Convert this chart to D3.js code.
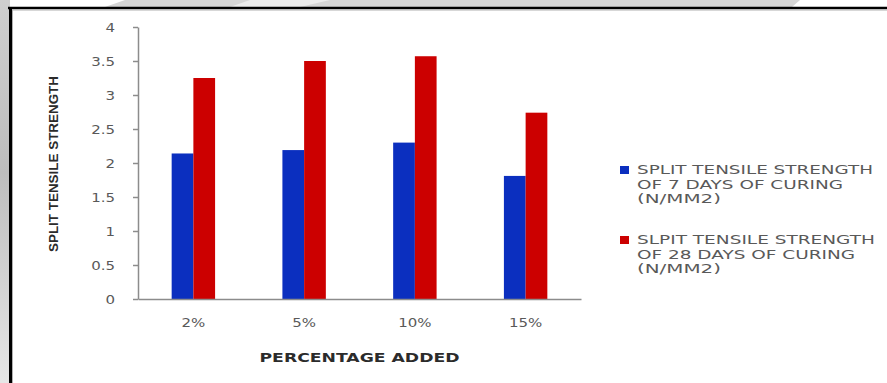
<!DOCTYPE html>
<html>
<head>
<meta charset="utf-8">
<script src="https://cdn.jsdelivr.net/npm/d3@7"></script>
<style>
  html, body { margin: 0; padding: 0; background: #fff; }
  svg { display: block; }
</style>
</head>
<body>
<svg id="chart" width="887" height="383"></svg>
<script>
// Split tensile strength by percentage added
const categories = ["2%", "5%", "10%", "15%"];
const seriesNames = [
  ["SPLIT TENSILE STRENGTH", "OF 7 DAYS OF CURING", "(N/MM2)"],
  ["SLPIT TENSILE STRENGTH", "OF 28 DAYS OF CURING", "(N/MM2)"]
];
const days7 = [2.14, 2.19, 2.30, 1.81];
const days28 = [3.25, 3.50, 3.57, 2.74];
const yTicks = [0, 0.5, 1, 1.5, 2, 2.5, 3, 3.5, 4];
const yTickLabels = ["0", "0.5", "1", "1.5", "2", "2.5", "3", "3.5", "4"];
const yTitle = "SPLIT TENSILE STRENGTH";
const xTitle = "PERCENTAGE ADDED";

const colors = ["#0b2fbf", "#cc0000"];
const seriesValues = [days7, days28];

const svg = d3.select("#chart");
const W = 887, H = 383;
const plot = { left: 138, right: 581, top: 27, bottom: 299 };
const STRETCH = 1.25;

// --- page frame and background band ---
const defs = svg.append("defs");
const lg = defs.append("linearGradient").attr("id", "sideFade").attr("x1", 0).attr("y1", 0).attr("x2", 0).attr("y2", 1);
lg.append("stop").attr("offset", "0%").attr("stop-color", "#cfcfcf");
lg.append("stop").attr("offset", "45%").attr("stop-color", "#bdbdbd");
lg.append("stop").attr("offset", "100%").attr("stop-color", "#e6e6e6");

svg.append("rect").attr("x", 0).attr("y", 0).attr("width", W).attr("height", H).attr("fill", "#fff");
svg.append("rect").attr("x", 0).attr("y", 0).attr("width", 10).attr("height", H).attr("fill", "url(#sideFade)");
svg.append("path")
  .attr("d", "M105,7 L125,0 L800,0 L792,7 Z")
  .attr("fill", "#d6d6d6");
svg.append("path")
  .attr("d", "M230,7 L250,0 L330,0 L300,7 Z")
  .attr("fill", "#ececec");
svg.append("line").attr("x1", 8).attr("x2", W).attr("y1", 8).attr("y2", 8)
  .attr("stroke", "#000").attr("stroke-width", 2.5);
svg.append("line").attr("x1", 10.5).attr("x2", 10.5).attr("y1", 7).attr("y2", H)
  .attr("stroke", "#000").attr("stroke-width", 3);
svg.append("line").attr("x1", 12).attr("x2", W).attr("y1", 10).attr("y2", 10)
  .attr("stroke", "#b0b0b0").attr("stroke-width", 1);
svg.append("line").attr("x1", 12.5).attr("x2", 12.5).attr("y1", 10).attr("y2", H)
  .attr("stroke", "#b0b0b0").attr("stroke-width", 1);

// --- scales ---
const x0 = d3.scaleBand().domain(categories).range([plot.left, plot.right]).padding(0);
const x1 = d3.scaleBand().domain([0, 1]).range([0, x0.bandwidth()]).paddingInner(0).paddingOuter(1.55);
const y = d3.scaleLinear().domain([0, 4]).range([plot.bottom, plot.top]);

// --- bars ---
const groups = svg.append("g").selectAll("g")
  .data(categories)
  .join("g")
  .attr("transform", d => `translate(${x0(d)},0)`);

groups.selectAll("rect")
  .data((d, i) => seriesValues.map((vals, s) => ({ s, v: vals[i] })))
  .join("rect")
  .attr("x", d => x1(d.s))
  .attr("width", x1.bandwidth())
  .attr("y", d => y(d.v))
  .attr("height", d => y(0) - y(d.v))
  .attr("fill", d => colors[d.s]);

// --- y axis ---
const yAxis = svg.append("g")
  .attr("transform", `translate(${plot.left},0)`)
  .call(d3.axisLeft(y).tickValues(yTicks).tickFormat((d, i) => yTickLabels[i]).tickSize(5).tickSizeOuter(0));
yAxis.select(".domain").attr("stroke", "#8c8c8c").attr("stroke-width", 1.5);
yAxis.selectAll(".tick line").attr("stroke", "#8c8c8c").attr("stroke-width", 1.5);
yAxis.selectAll(".tick text")
  .attr("x", 0).attr("dy", "0.35em")
  .attr("transform", `translate(-23,0) scale(${STRETCH},1)`)
  .attr("fill", "#595959")
  .attr("font-family", "'DejaVu Sans', sans-serif")
  .attr("font-size", 12);

// --- x axis ---
const xAxis = svg.append("g")
  .attr("transform", `translate(0,${plot.bottom})`)
  .call(d3.axisBottom(x0).tickSize(0).tickSizeOuter(0));
xAxis.select(".domain").attr("stroke", "#8c8c8c").attr("stroke-width", 1.5);
xAxis.selectAll(".tick text")
  .attr("y", 0).attr("dy", 0)
  .attr("transform", `translate(0,28) scale(${STRETCH},1)`)
  .attr("fill", "#595959")
  .attr("font-family", "'DejaVu Sans', sans-serif")
  .attr("font-size", 12);

// --- axis titles ---
svg.append("text")
  .attr("transform", `translate(58,${(plot.top + plot.bottom) / 2 + 1}) rotate(-90)`)
  .attr("text-anchor", "middle")
  .attr("font-family", "'Liberation Sans Narrow', 'Liberation Sans', sans-serif")
  .attr("font-weight", "bold")
  .attr("font-size", 12)
  .attr("fill", "#2b2b2b")
  .attr("textLength", 176).attr("lengthAdjust", "spacingAndGlyphs")
  .text(yTitle);

svg.append("text")
  .attr("x", (plot.left + plot.right) / 2)
  .attr("y", 362)
  .attr("text-anchor", "middle")
  .attr("font-family", "'DejaVu Sans', sans-serif")
  .attr("font-weight", "bold")
  .attr("font-size", 12)
  .attr("fill", "#2b2b2b")
  .attr("textLength", 200).attr("lengthAdjust", "spacingAndGlyphs")
  .text(xTitle);

// --- legend ---
const legendWidths = [[236, 206, 84], [238, 218, 84]];
const legend = svg.append("g");
const blockTop = [170, 240];
seriesNames.forEach((lines, s) => {
  const g = legend.append("g").attr("transform", `translate(620,${blockTop[s]})`);
  g.append("rect").attr("x", 0).attr("y", -4).attr("width", 9).attr("height", 8).attr("fill", colors[s]);
  lines.forEach((t, k) => {
    g.append("text")
      .attr("x", 17).attr("y", k * 14.5).attr("dy", "0.35em")
      .attr("font-family", "'DejaVu Sans', sans-serif")
      .attr("font-size", 12.5)
      .attr("fill", "#595959")
      .attr("textLength", legendWidths[s][k]).attr("lengthAdjust", "spacingAndGlyphs")
      .text(t);
  });
});
</script>
</body>
</html>
